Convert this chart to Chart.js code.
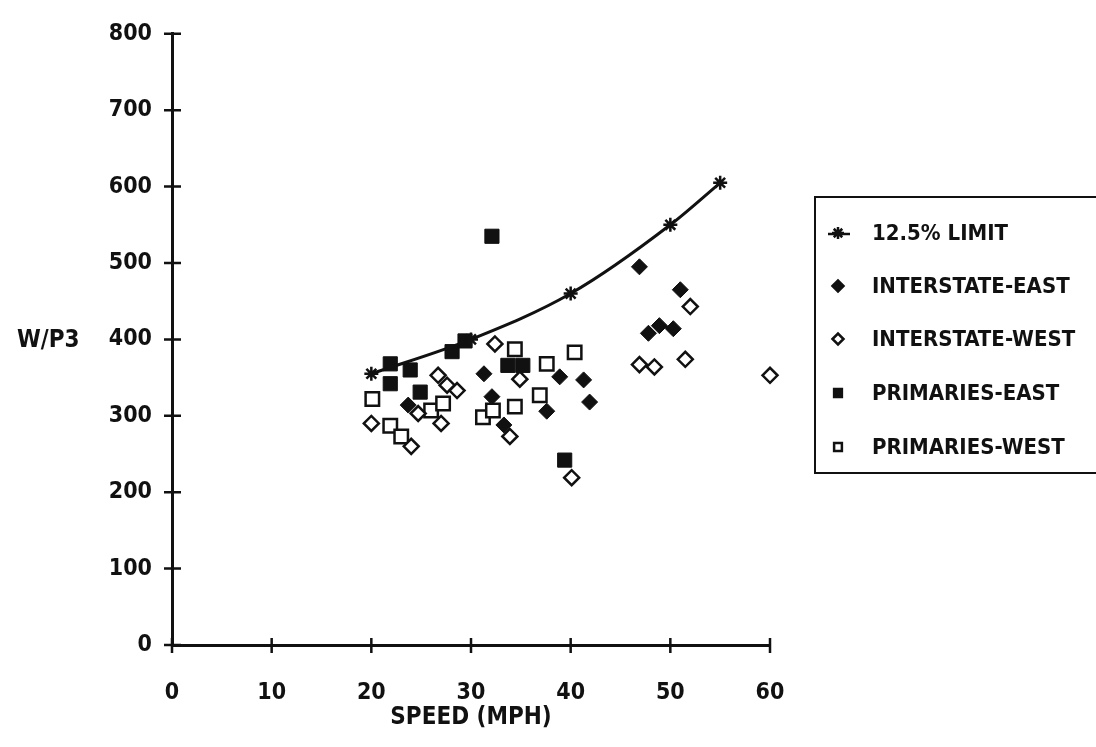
<!DOCTYPE html>
<html>
<head>
<meta charset="utf-8">
<script src="https://cdn.jsdelivr.net/npm/chart.js@4.4.1/dist/chart.umd.min.js"></script>
<style>
  html, body { margin: 0; padding: 0; background: #fff; }
  #wrap { width: 1096px; height: 747px; position: relative; }
</style>
</head>
<body>
<div id="wrap"><canvas id="chart" width="1096" height="747"></canvas></div>
<script>
// ---- Daten ----
const LIMIT_SPEED = [20, 30, 40, 50, 55];
const LIMIT_WP3   = [355, 400, 460, 550, 605];

const IE_SPEED = [31.3, 23.7, 33.3, 32.1, 37.6, 38.9, 41.3, 41.9, 46.9, 51.0, 47.8, 48.9, 50.3];
const IE_WP3   = [355, 314, 288, 325, 306, 351, 347, 318, 495, 465, 408, 418, 414];

const IW_SPEED = [20.0, 26.7, 27.6, 28.6, 24.7, 27.0, 24.0, 32.4, 34.9, 33.9, 40.1, 52.0, 46.9, 48.4, 51.5, 60.0];
const IW_WP3   = [290, 353, 340, 333, 303, 290, 260, 394, 348, 273, 219, 443, 367, 364, 374, 353];

const PE_SPEED = [21.9, 23.9, 21.9, 24.9, 28.1, 29.4, 33.7, 35.2, 32.1, 39.4];
const PE_WP3   = [368, 360, 342, 331, 384, 398, 366, 366, 535, 242];

const PW_SPEED = [20.1, 21.9, 23.0, 26.0, 27.2, 34.4, 31.2, 34.4, 32.2, 37.6, 36.9, 40.4];
const PW_WP3   = [322, 287, 273, 307, 316, 387, 298, 312, 307, 368, 327, 383];

const X_TICKS = [0, 10, 20, 30, 40, 50, 60];
const Y_TICKS = [0, 100, 200, 300, 400, 500, 600, 700, 800];

const LEGEND_LABELS = ['12.5% LIMIT', 'INTERSTATE-EAST', 'INTERSTATE-WEST', 'PRIMARIES-EAST', 'PRIMARIES-WEST'];

const FONT = "'DejaVu Sans Condensed', 'Liberation Sans', sans-serif";
const INK = '#111';

const pts = (xs, ys) => xs.map((x, i) => ({ x, y: ys[i] }));

// ---- Plugin: Achsenstriche, Achsentitel, Legende ----
const decorations = {
  id: 'decorations',
  afterDraw(chart) {
    const { ctx, scales: { x, y } } = chart;
    const H = Chart.helpers;
    ctx.save();
    ctx.strokeStyle = INK;
    ctx.lineWidth = 2.5;
    // Striche kreuzen die Achse
    const y0 = y.getPixelForValue(0);
    const x0 = x.getPixelForValue(0);
    ctx.beginPath();
    for (const v of X_TICKS) {
      const px = x.getPixelForValue(v);
      ctx.moveTo(px, y0 - 7);
      ctx.lineTo(px, y0 + 8);
    }
    for (const v of Y_TICKS) {
      const py = y.getPixelForValue(v);
      ctx.moveTo(x0 - 8, py);
      ctx.lineTo(x0 + 9, py);
    }
    ctx.stroke();

    // Achsentitel
    ctx.fillStyle = INK;
    ctx.font = `bold 24px ${FONT}`;
    ctx.textBaseline = 'middle';
    ctx.textAlign = 'left';
    ctx.fillText('W/P3', 17, y.getPixelForValue(400) + 1);
    ctx.textAlign = 'center';
    ctx.fillText('SPEED (MPH)', x.getPixelForValue(30), 718);

    // Legende
    const box = { left: 815, top: 197, right: 1110, bottom: 473 };
    ctx.lineWidth = 2;
    ctx.strokeRect(box.left, box.top, box.right - box.left, box.bottom - box.top);
    const rows = [233, 286, 339, 393, 447];
    const mx = 838, tx = 872;
    chart.data.datasets.forEach((ds, i) => {
      const cy = rows[i];
      ctx.lineWidth = 2.5;
      ctx.strokeStyle = INK;
      ctx.fillStyle = ds.backgroundColor;
      if (i === 0) {
        ctx.beginPath();
        ctx.moveTo(828, cy + 1);
        ctx.lineTo(850, cy + 1);
        ctx.stroke();
      }
      H.drawPoint(ctx, { pointStyle: ds.pointStyle, radius: i === 0 ? 6 : 5.5, rotation: 0, borderWidth: 2 }, mx, cy);
      ctx.fillStyle = INK;
      ctx.font = `bold 22px ${FONT}`;
      ctx.textAlign = 'left';
      ctx.textBaseline = 'middle';
      ctx.fillText(LEGEND_LABELS[i], tx, cy + 1);
    });
    ctx.restore();
  },
};

new Chart(document.getElementById('chart'), {
  type: 'scatter',
  data: {
    datasets: [
      {
        label: LEGEND_LABELS[0],
        data: pts(LIMIT_SPEED, LIMIT_WP3),
        showLine: true,
        cubicInterpolationMode: 'monotone',
        borderColor: INK,
        backgroundColor: INK,
        borderWidth: 3,
        pointStyle: 'star',
        pointRadius: 7,
        pointBorderWidth: 2.5,
      },
      {
        label: LEGEND_LABELS[1],
        data: pts(IE_SPEED, IE_WP3),
        pointStyle: 'rectRot',
        pointRadius: 8,
        backgroundColor: INK,
        borderColor: INK,
        pointBorderWidth: 1,
      },
      {
        label: LEGEND_LABELS[2],
        data: pts(IW_SPEED, IW_WP3),
        pointStyle: 'rectRot',
        pointRadius: 7.5,
        backgroundColor: '#fff',
        borderColor: INK,
        pointBorderWidth: 2.5,
      },
      {
        label: LEGEND_LABELS[3],
        data: pts(PE_SPEED, PE_WP3),
        pointStyle: 'rect',
        pointRadius: 10,
        backgroundColor: INK,
        borderColor: INK,
        pointBorderWidth: 1,
      },
      {
        label: LEGEND_LABELS[4],
        data: pts(PW_SPEED, PW_WP3),
        pointStyle: 'rect',
        pointRadius: 9.5,
        backgroundColor: '#fff',
        borderColor: INK,
        pointBorderWidth: 2.5,
      },
    ],
  },
  options: {
    responsive: false,
    animation: false,
    clip: false,
    layout: { padding: { left: 0, right: 326, top: 29, bottom: 0 } },
    plugins: {
      legend: { display: false },
      tooltip: { enabled: false },
    },
    scales: {
      x: {
        type: 'linear',
        min: 0, max: 60,
        afterFit: s => { s.height = 102; },
        afterBuildTicks: s => { s.ticks = X_TICKS.map(v => ({ value: v })); },
        grid: { display: false, drawTicks: false },
        border: { display: true, color: INK, width: 3 },
        ticks: { color: INK, padding: 34, font: { family: FONT, size: 23, weight: 'bold' } },
      },
      y: {
        type: 'linear',
        min: 0, max: 800,
        afterFit: s => { s.width = 172; },
        afterBuildTicks: s => { s.ticks = Y_TICKS.map(v => ({ value: v })); },
        grid: { display: false, drawTicks: false },
        border: { display: true, color: INK, width: 3 },
        ticks: { color: INK, padding: 20, font: { family: FONT, size: 23, weight: 'bold' } },
      },
    },
  },
  plugins: [decorations],
});
</script>
</body>
</html>
